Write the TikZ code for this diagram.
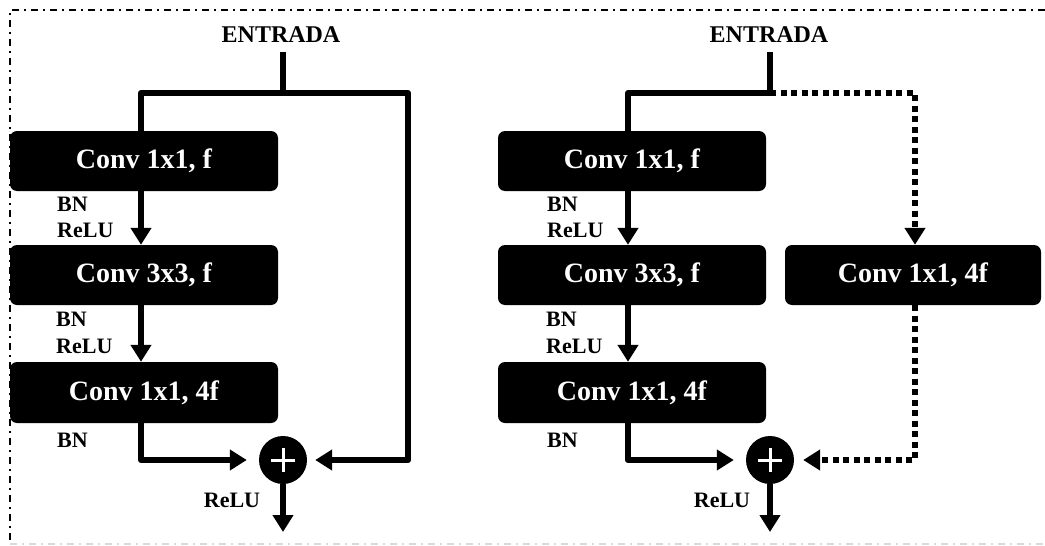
\documentclass[tikz,border=0pt]{standalone}
\usepackage{fontspec}
\setmainfont{Liberation Serif}
\usetikzlibrary{arrows.meta}
\begin{document}
\begin{tikzpicture}[x=1pt,y=-1pt,
  blk/.style={fill=black, rounded corners=7pt, minimum height=60pt, text=white,
    font=\fontsize{28}{31}\selectfont\bfseries, inner sep=0pt},
  ln/.style={line width=6pt, line join=round},
  tip/.style={-{Triangle[length=17pt,width=20pt]}},
  arr/.style={ln, tip},
  dotl/.style={line width=6pt, dash pattern=on 6pt off 4.5pt},
  lbl/.style={font=\fontsize{22}{24}\selectfont\bfseries, anchor=west, inner sep=0pt},
  ttl/.style={font=\fontsize{24}{27}\selectfont\bfseries, inner sep=0pt},
  plus/.style={circle, fill=black, minimum size=48pt, inner sep=0pt},
  frame/.style={line width=1.5pt, dash pattern=on 7pt off 5pt on 2pt off 5pt}]
\path[use as bounding box] (0,0) rectangle (1045,546);
% frame
\draw[frame] (1045,10) -- (10,10) -- (10,544);
\draw[frame, black!15] (10,544) -- (1045,544);

% ---------- left block ----------
\node[ttl] (e1) at (281,35) {ENTRADA};
\coordinate (in1) at (283,52);
\coordinate (j1) at (283,93);
\coordinate (tl1) at (141,93);
\coordinate (tr1) at (408,93);
\node[blk, minimum width=268pt] (a1) at (144,161) {Conv 1x1, f};
\node[blk, minimum width=268pt] (a2) at (144,275) {Conv 3x3, f};
\node[blk, minimum width=268pt, minimum height=61pt] (a3) at (144,392.5) {Conv 1x1, 4f};
\node[plus] (p1) at (283,460) {};
\draw[white, line width=3pt] (p1.center) ++(-12,0) -- ++(24,0);
\draw[white, line width=3pt] (p1.center) ++(0,-12) -- ++(0,24);
\coordinate (o1) at (283,532);

\draw[ln] (in1) -- (j1);
\draw[arr, shorten >=8pt] (a1.north -| tl1) -- (tl1) -- (tr1) |- (p1.east);
\draw[arr] (a1.south -| tl1) -- (a2.north -| tl1);
\draw[arr] (a2.south -| tl1) -- (a3.north -| tl1);
\draw[arr, shorten >=12pt] (a3.south -| tl1) |- (p1.west);
\draw[arr] (p1.south) -- (o1);

\node[lbl] (l1) at (57,204) {BN};
\node[lbl] (l2) at (57,230) {ReLU};
\node[lbl] (l3) at (56,319) {BN};
\node[lbl] (l4) at (56,346) {ReLU};
\node[lbl] (l5) at (57,440) {BN};
\node[lbl, anchor=center] (l6) at (232,500) {ReLU};

% ---------- right block ----------
\node[ttl] (e2) at (769,35) {ENTRADA};
\coordinate (in2) at (770,52);
\coordinate (j2) at (770,93);
\coordinate (tl2) at (628,93);
\coordinate (tr2) at (915,93);
\node[blk, minimum width=268pt] (b1) at (632,161) {Conv 1x1, f};
\node[blk, minimum width=268pt] (b2) at (632,275) {Conv 3x3, f};
\node[blk, minimum width=268pt, minimum height=61pt] (b3) at (632,392.5) {Conv 1x1, 4f};
\node[blk, minimum width=256pt] (b4) at (913,275) {Conv 1x1, 4f};
\node[plus] (p2) at (770,460) {};
\draw[white, line width=3pt] (p2.center) ++(-12,0) -- ++(24,0);
\draw[white, line width=3pt] (p2.center) ++(0,-12) -- ++(0,24);
\coordinate (o2) at (770,532);

\draw[ln] (in2) -- (j2);
\draw[ln] (b1.north -| tl2) -- (tl2) -- (j2);
\draw[dotl, tip] (j2) -- (tr2) -- (b4.north -| tr2);
\draw[dotl, tip, shorten >=9pt] (b4.south -| tr2) |- (p2.east);
\draw[arr] (b1.south -| tl2) -- (b2.north -| tl2);
\draw[arr] (b2.south -| tl2) -- (b3.north -| tl2);
\draw[arr, shorten >=12pt] (b3.south -| tl2) |- (p2.west);
\draw[arr] (p2.south) -- (o2);

\node[lbl] (m1) at (547,204) {BN};
\node[lbl] (m2) at (547,230) {ReLU};
\node[lbl] (m3) at (546,319) {BN};
\node[lbl] (m4) at (546,346) {ReLU};
\node[lbl] (m5) at (547,440) {BN};
\node[lbl, anchor=center] (m6) at (722,500) {ReLU};
\end{tikzpicture}
\end{document}
